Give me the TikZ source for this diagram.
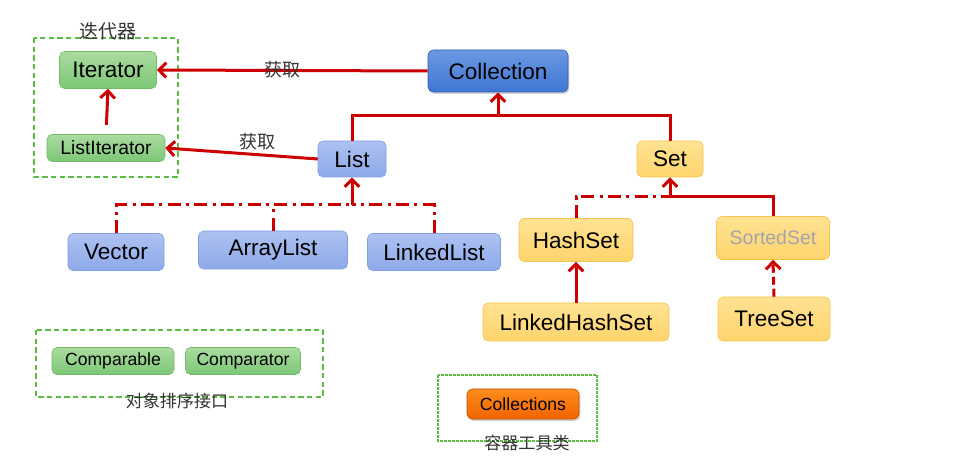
\documentclass[tikz,border=0pt]{standalone}
\usepackage{fontspec}
\setmainfont{Liberation Sans}
\newfontfamily\cjk{Noto Sans CJK SC}
\usepackage{xcolor}
\usepackage{tikz}
\usetikzlibrary{arrows.meta,shadows}
\definecolor{GreenTop}{HTML}{AADB9F}
\definecolor{GreenBot}{HTML}{7DC777}
\definecolor{GreenEdge}{HTML}{74B96A}
\definecolor{BlueTop}{HTML}{AEC2F1}
\definecolor{BlueBot}{HTML}{8DA9E9}
\definecolor{BlueEdge}{HTML}{7F9FE2}
\definecolor{DeepTop}{HTML}{6C98E2}
\definecolor{DeepBot}{HTML}{3F76D4}
\definecolor{YellowTop}{HTML}{FFE293}
\definecolor{YellowBot}{HTML}{FFD46C}
\definecolor{YellowEdge}{HTML}{F3C54C}
\definecolor{OrangeTop}{HTML}{FF8C1C}
\definecolor{OrangeBot}{HTML}{F26300}
\definecolor{LineRed}{HTML}{CC0000}
\definecolor{FrameGreen}{HTML}{5DBB45}
\definecolor{FadeText}{HTML}{A3A3AD}

\tikzset{%
  box/.style={rounded corners=3.75pt, inner sep=0pt, text centered, font=\fontsize{16.9}{18}\selectfont},%
  small/.style={font=\fontsize{13.2}{15}\selectfont},%
  gbox/.style={box, draw=GreenEdge, top color=GreenTop, bottom color=GreenBot},%
  bbox/.style={box, draw=BlueEdge, top color=BlueTop, bottom color=BlueBot},%
  ybox/.style={box, draw=YellowEdge, top color=YellowTop, bottom color=YellowBot},%
  rline/.style={draw=LineRed, line width=2.25pt},%
  rdash/.style={rline, dash pattern=on 9.75pt off 4pt on 2.25pt off 4pt},%
  tip/.style={-{Straight Barb[length=5.5pt,width=11pt]}},%
  frame/.style={draw=FrameGreen, line width=1.1pt, dash pattern=on 4pt off 2.5pt},%
  cjklabel/.style={font=\cjk\fontsize{13.5}{15}\selectfont, text=black!80}%
}

\begin{document}
\begin{tikzpicture}[x=0.75pt, y=-0.75pt]%
\useasboundingbox (0,0) rectangle (968,463);%
% iterators
\draw[frame] (34,38) rectangle (178,177);%
\node[cjklabel, font=\cjk\fontsize{14.3}{16}\selectfont] (itlbl) at (108,31) {迭代器};%
\node[gbox, minimum width=72.75pt, minimum height=27.75pt] (iter) at (108,70) {Iterator};%
\node[gbox, small, font=\fontsize{14.5}{16}\selectfont, minimum width=88.5pt, minimum height=20.25pt] (litr) at (106,148) {ListIterator};%
% collection and its two branches
\node[box, draw=DeepBot!80!black, top color=DeepTop, bottom color=DeepBot, drop shadow={opacity=0.35, shadow xshift=1pt, shadow yshift=-1.5pt}, minimum width=105pt, minimum height=31.5pt] (coll) at (498,71) {Collection};%
\node[bbox, minimum width=51pt, minimum height=27pt] (list) at (352,159) {List};%
\node[ybox, minimum width=49.5pt, minimum height=27pt] (set) at (670,159) {Set};%
% list classes
\node[bbox, minimum width=72pt, minimum height=27.75pt] (vec) at (116,252) {Vector};%
\node[bbox, minimum width=111.75pt, minimum height=28.5pt] (alist) at (273,250) {ArrayList};%
\node[bbox, minimum width=99.75pt, minimum height=27.75pt] (llist) at (434,252) {LinkedList};%
% set classes
\node[ybox, minimum width=85.5pt, minimum height=32.25pt] (hset) at (576,240) {HashSet};%
\node[ybox, text=FadeText, font=\fontsize{14.6}{16}\selectfont, minimum width=84.75pt, minimum height=32.25pt] (sset) at (773,238) {SortedSet};%
\node[ybox, minimum width=139.5pt, minimum height=28.5pt] (lhset) at (576,322) {LinkedHashSet};%
\node[ybox, minimum width=84pt, minimum height=33pt] (tset) at (774,319) {TreeSet};%
% comparing
\draw[frame] (36,330) rectangle (323,397);%
\node[gbox, small, minimum width=91.5pt, minimum height=20.25pt] (cmpb) at (113,361) {Comparable};%
\node[gbox, small, minimum width=86.25pt, minimum height=20.25pt] (cmpr) at (243,361) {Comparator};%
\node[cjklabel, font=\cjk\fontsize{12.8}{14}\selectfont] (cmplbl) at (177,401) {对象排序接口};%
% tools
\draw[frame, dash pattern=on 2pt off 1pt] (438,375) rectangle (597,441);%
\node[box, small, draw=OrangeBot!80!black, top color=OrangeTop, bottom color=OrangeBot, drop shadow={opacity=0.35, shadow xshift=1pt, shadow yshift=-1.5pt}, minimum width=84pt, minimum height=22.5pt] (colls) at (523,404) {Collections};%
\node[cjklabel, font=\cjk\fontsize{12.8}{14}\selectfont] (toollbl) at (527,443) {容器工具类};%
% connectors
\coordinate (cj) at (498,116);%
\coordinate (lj) at (352,205);%
\coordinate (sj) at (670,197);%
\draw[rline, tip] (coll.west) -- (iter.east);%
\node[cjklabel] (get1) at (282,70) {获取};%
\draw[rline, tip] (list.west) -- (litr.east);%
\node[cjklabel] (get2) at (257,142) {获取};%
\draw[rline, tip, shorten <=7pt] (litr.north) -- (iter.south);%
\draw[rline] (list.north) |- (cj) -| (set.north);%
\draw[rline, tip] (cj) -- (coll.south);%
\draw[rdash] (vec.north) |- (lj);%
\draw[rdash] (llist.north) |- (lj);%
\draw[rdash] (alist.north) -- (alist.north |- lj);%
\draw[rline, tip] (lj) -- (list.south);%
\draw[rdash] (hset.north) |- (sj);%
\draw[rline] (sj) -| (sset.north);%
\draw[rline, tip] (sj) -- (set.south);%
\draw[rline, tip] (lhset.north) -- (hset.south);%
\draw[rline, tip, dash pattern=on 6pt off 3pt] (tset.north) -- (sset.south);%
\end{tikzpicture}
\end{document}
